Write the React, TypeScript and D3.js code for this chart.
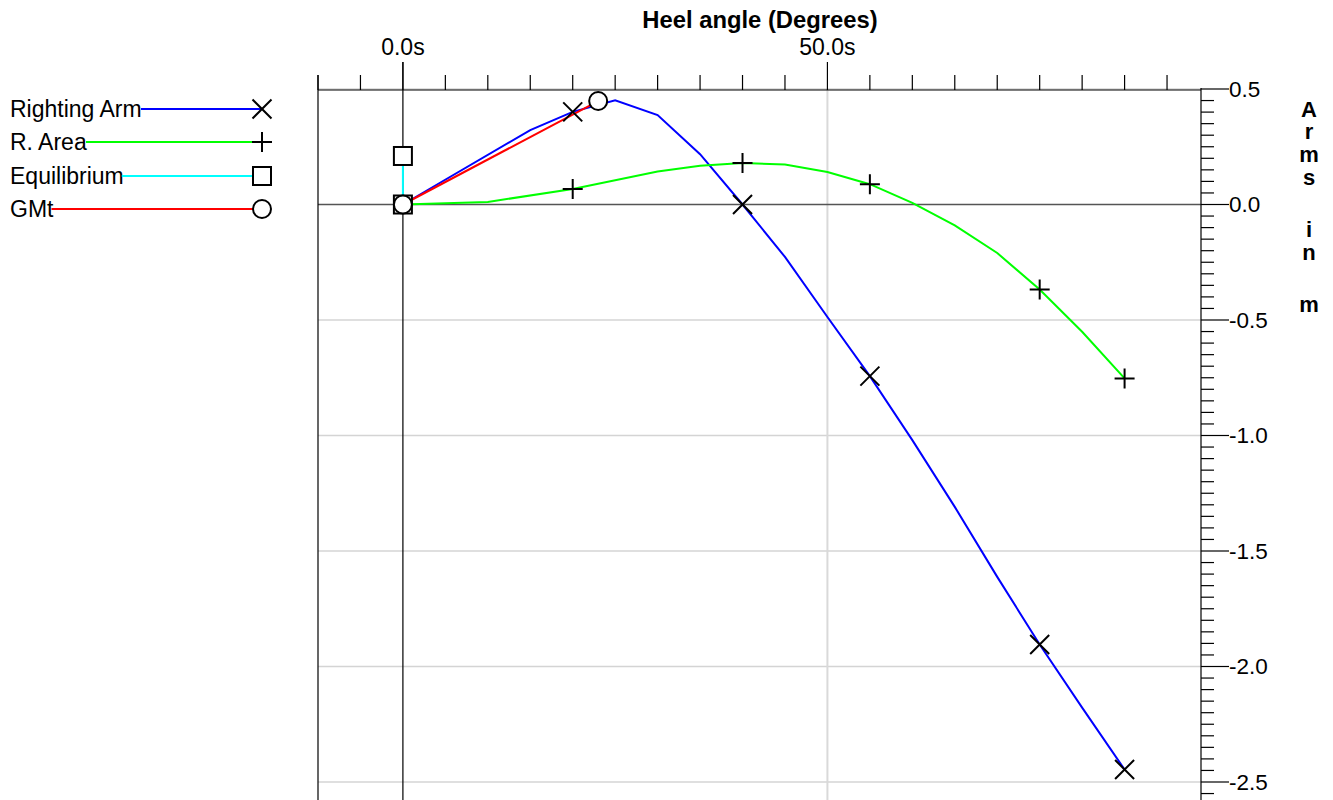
import React from "react";
import * as d3 from "d3";

// ---- data ----
const armAngles = [0, 15, 20, 25, 30, 35, 40, 45, 50, 55, 60, 65, 70, 75, 80, 85];
const armValues = [0, 0.322, 0.401, 0.451, 0.387, 0.218, 0.0, -0.227, -0.487, -0.743, -1.02, -1.309, -1.612, -1.905, -2.178, -2.446];
const areaAngles = [0, 10, 20, 30, 35, 40, 45, 50, 55, 60, 65, 70, 75, 80, 85];
const areaValues = [0, 0.011, 0.067, 0.143, 0.168, 0.18, 0.173, 0.141, 0.088, 0.007, -0.09, -0.21, -0.368, -0.551, -0.753];
const markerAngles = [20, 40, 55, 75, 85];
const eqAngles = [0, 0];
const eqValues = [0, 0.21];
const gmAngles = [0, 23];
const gmValues = [0, 0.448];

const seriesNames = ["Righting Arm", "R. Area", "Equilibrium", "GMt"];
const seriesColors = ["#0000ff", "#00ff00", "#00ffff", "#ff0000"];
const seriesMarkers = ["x", "plus", "square", "circle"];

const xTickLabels = ["0.0s", "50.0s"];
const xMajorTicks = [0, 50];
const yMajorTicks = [0.5, 0.0, -0.5, -1.0, -1.5, -2.0, -2.5];
const xTitle = "Heel angle (Degrees)";
const yTitle = "Arms in m";

const FONT = '"Liberation Sans", Arial, sans-serif';

function Marker({ type, cx, cy }: { type: string; cx: number; cy: number }) {
  const s = 9.5;
  if (type === "x")
    return (
      <path d={`M${cx - s},${cy - s}L${cx + s},${cy + s}M${cx - s},${cy + s}L${cx + s},${cy - s}`} stroke="#000" strokeWidth={2} fill="none" />
    );
  if (type === "plus")
    return (
      <path d={`M${cx - 10},${cy}L${cx + 10},${cy}M${cx},${cy - 10}L${cx},${cy + 10}`} stroke="#000" strokeWidth={2} fill="none" />
    );
  if (type === "square")
    return <rect x={cx - 9} y={cy - 9} width={18} height={18} fill="#fff" stroke="#000" strokeWidth={2} />;
  return <circle cx={cx} cy={cy} r={9} fill="#fff" stroke="#000" strokeWidth={2} />;
}

export default function App() {
  const W = 1333, H = 800;
  const left = 318, right = 1201, top = 89, bottom = 800;
  const x = d3.scaleLinear().domain([-10, 94]).range([left, right]);
  const y = d3.scaleLinear().domain([0.5, -2.5]).range([89, 782]);

  const line = d3.line<[number, number]>().x((d) => x(d[0])).y((d) => y(d[1]));
  const zip = (a: number[], b: number[]) => a.map((v, i) => [v, b[i]] as [number, number]);

  const armPts = zip(armAngles, armValues);
  const areaPts = zip(areaAngles, areaValues);
  const eqPts = zip(eqAngles, eqValues);
  const gmPts = zip(gmAngles, gmValues);

  const xMinor = d3.range(-10, 91, 5).filter((v) => !xMajorTicks.includes(v));
  const yMinorAll = d3.range(0, 62).map((i) => +(0.5 - i * 0.05).toFixed(2)).filter((v) => y(v) <= bottom);
  const yMinor = yMinorAll.filter((v) => !yMajorTicks.some((m) => Math.abs(m - v) < 1e-6));

  const FS = 23;
  const ctx = typeof document !== "undefined" ? document.createElement("canvas").getContext("2d") : null;
  if (ctx) ctx.font = `${FS}px ${FONT}`;
  const tw = (t: string) => (ctx ? ctx.measureText(t).width : t.length * 11);

  const legendY = [109, 142, 176, 209];
  const legendMarkerX = 262;

  // vertical stacked title positions
  const titleChars: { c: string; y: number }[] = [];
  let ty = 116.7;
  yTitle.split("").forEach((c) => {
    if (c === " ") {
      ty += 30;
    } else {
      titleChars.push({ c, y: ty });
      ty += 22.6;
    }
  });

  return (
    <svg width={W} height={H} style={{ position: "fixed", left: 0, top: 0, background: "#fff" }} fontFamily={FONT}>
      <rect width={W} height={H} fill="#fff" />
      {/* grid */}
      {yMajorTicks.filter((v) => v !== 0).map((v) => (
        <line key={"g" + v} x1={left} x2={right} y1={y(v)} y2={y(v)} stroke="#d4d4d4" strokeWidth={1.5} />
      ))}
      <line x1={x(50)} x2={x(50)} y1={top} y2={bottom} stroke="#d9d9d9" strokeWidth={2} />
      <line x1={left} x2={right} y1={y(0)} y2={y(0)} stroke="#555" strokeWidth={1.5} />
      <line x1={x(0)} x2={x(0)} y1={62} y2={bottom} stroke="#000" strokeWidth={1.2} />

      {/* top axis */}
      <line x1={left} x2={right} y1={top + 1} y2={top + 1} stroke="#000" strokeWidth={1.2} />
      <line x1={left} x2={left} y1={75} y2={bottom} stroke="#000" strokeWidth={1.2} />
      {xMinor.map((v) => (
        <line key={"xm" + v} x1={x(v)} x2={x(v)} y1={75} y2={top + 1} stroke="#000" strokeWidth={1.2} />
      ))}
      {xMajorTicks.map((v, i) => (
        <g key={"xM" + v}>
          <line x1={x(v)} x2={x(v)} y1={62} y2={top + 1} stroke="#000" strokeWidth={1.2} />
          <text x={x(v)} y={55} textAnchor="middle" fontSize={FS} fill="#000">
            {xTickLabels[i]}
          </text>
        </g>
      ))}
      <text x={760} y={28} textAnchor="middle" fontSize={23.8} fontWeight="bold" fill="#000">
        {xTitle}
      </text>

      {/* right axis */}
      <line x1={right} x2={right} y1={top - 1} y2={bottom} stroke="#000" strokeWidth={1.2} />
      {yMinor.map((v) => (
        <line key={"ym" + v} x1={right} x2={right + 13} y1={y(v)} y2={y(v)} stroke="#000" strokeWidth={1.2} />
      ))}
      {yMajorTicks.map((v) => (
        <g key={"yM" + v}>
          <line x1={right} x2={right + 28} y1={y(v)} y2={y(v)} stroke="#000" strokeWidth={1.2} />
          <text x={right + 28} y={y(v) + 7.5} fontSize={22.5} fill="#000">
            {v.toFixed(1)}
          </text>
        </g>
      ))}
      {titleChars.map((t, i) => (
        <text key={"yt" + i} x={1309} y={t.y} textAnchor="middle" fontSize={22} fontWeight="bold" fill="#000">
          {t.c}
        </text>
      ))}

      {/* series lines */}
      <path d={line(armPts) || ""} fill="none" stroke={seriesColors[0]} strokeWidth={2} />
      <path d={line(areaPts) || ""} fill="none" stroke={seriesColors[1]} strokeWidth={2} />
      <path d={line(eqPts) || ""} fill="none" stroke={seriesColors[2]} strokeWidth={2} />
      <path d={line(gmPts) || ""} fill="none" stroke={seriesColors[3]} strokeWidth={2} />

      {/* markers */}
      {armPts.filter((p) => markerAngles.includes(p[0])).map((p, i) => (
        <Marker key={"ma" + i} type="x" cx={x(p[0])} cy={y(p[1])} />
      ))}
      {areaPts.filter((p) => markerAngles.includes(p[0])).map((p, i) => (
        <Marker key={"mr" + i} type="plus" cx={x(p[0])} cy={y(p[1])} />
      ))}
      {eqPts.map((p, i) => (
        <Marker key={"me" + i} type="square" cx={x(p[0])} cy={y(p[1])} />
      ))}
      {gmPts.map((p, i) => (
        <Marker key={"mg" + i} type="circle" cx={x(p[0])} cy={y(p[1])} />
      ))}

      {/* legend */}
      {seriesNames.map((n, i) => {
        const textEnd = 10 + tw(n);
        return (
          <g key={"lg" + i}>
            <text x={10} y={legendY[i] + 7.5} fontSize={FS} fill="#000">
              {n}
            </text>
            <line x1={textEnd - 2} x2={legendMarkerX} y1={legendY[i]} y2={legendY[i]} stroke={seriesColors[i]} strokeWidth={2} />
            <Marker type={seriesMarkers[i]} cx={legendMarkerX} cy={legendY[i]} />
          </g>
        );
      })}
    </svg>
  );
}
